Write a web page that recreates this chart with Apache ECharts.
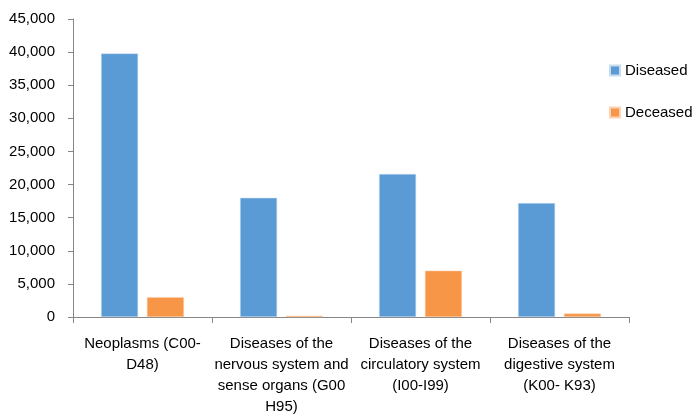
<!doctype html>
<html>
<head>
<meta charset="utf-8">
<title>Diseased and deceased by disease group</title>
<style>
    html, body { margin: 0; padding: 0; background: #fff; }
    #chart { width: 694px; height: 417px; }
</style>
</head>
<body>
<div id="chart"></div>
<script src="https://cdn.jsdelivr.net/npm/echarts@6/dist/echarts.min.js"></script>
<script>
// data
var categories = [
    'Neoplasms (C00-\nD48)',
    'Diseases of the\nnervous system and\nsense organs (G00\nH95)',
    'Diseases of the\ncirculatory system\n(I00-I99)',
    'Diseases of the\ndigestive system\n(K00- K93)'
];
var diseased = [39800, 18000, 21600, 17200];
var deceased = [3000, 200, 7000, 520];
var yTicks = [0, 5000, 10000, 15000, 20000, 25000, 30000, 35000, 40000, 45000];

var font = "'Liberation Sans', Arial, sans-serif";
var myChart = echarts.init(document.getElementById('chart'));
var option = {
    animation: false,
    textStyle: { fontFamily: font },
    grid: { left: 73, right: 65, top: 19, bottom: 96 },
    legend: {
        orient: 'vertical',
        left: 604,
        top: 58,
        itemWidth: 10,
        itemHeight: 10,
        itemGap: 27,
        itemTextGap: 4,
        icon: 'rect',
        textStyle: { fontSize: 15, color: '#000', fontFamily: font },
        data: ['Diseased', 'Deceased']
    },
    xAxis: {
        type: 'category',
        data: categories,
        axisLine: { lineStyle: { color: '#868686', width: 1 } },
        axisTick: { show: true, length: 6, lineStyle: { color: '#868686' } },
        axisLabel: {
            interval: 0,
            margin: 16,
            fontSize: 15,
            lineHeight: 21,
            color: '#000',
            fontFamily: font
        }
    },
    yAxis: {
        type: 'value',
        min: yTicks[0],
        max: yTicks[yTicks.length - 1],
        interval: 5000,
        splitLine: { show: false },
        axisLine: { show: true, lineStyle: { color: '#868686', width: 1 } },
        axisTick: { show: true, length: 5, lineStyle: { color: '#868686' } },
        axisLabel: {
            margin: 18,
            fontSize: 15,
            color: '#000',
            fontFamily: font,
            formatter: function (v) { return v.toLocaleString('en-US'); }
        }
    },
    series: [
        {
            name: 'Diseased',
            type: 'bar',
            data: diseased,
            barWidth: 37,
            barGap: '24%',
            itemStyle: { color: '#5B9BD5', borderColor: '#c8dcf0', borderWidth: 0.5 }
        },
        {
            name: 'Deceased',
            type: 'bar',
            data: deceased,
            barWidth: 37,
            itemStyle: { color: '#F79646', borderColor: '#fcd3b4', borderWidth: 0.5 }
        }
    ]
};
myChart.setOption(option);
</script>
</body>
</html>
